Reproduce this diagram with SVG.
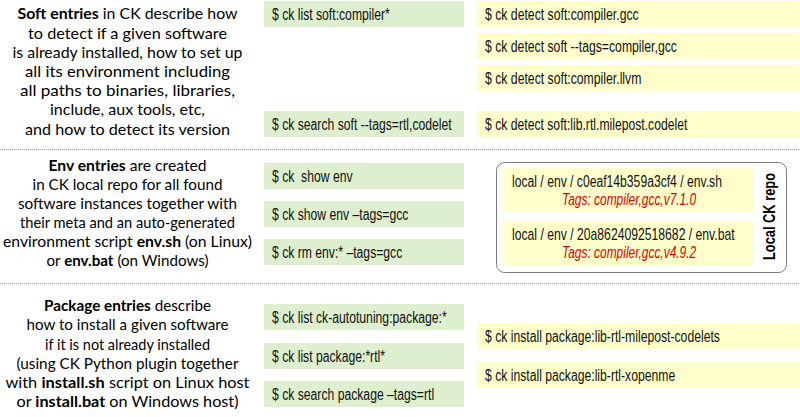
<svg xmlns="http://www.w3.org/2000/svg" width="800" height="417" viewBox="0 0 800 417">
<style>
.bg{fill:#ffffff}
.g{fill:#DEEFCF}
.y{fill:#FFFFCC}
.cmd{font-family:"Liberation Sans Narrow","Liberation Sans",Arial,sans-serif;font-size:16px;fill:#111111}
.desc{font-family:Lato,"Liberation Sans",sans-serif;font-size:16px;text-anchor:middle;fill:#000000}
.b{font-weight:bold}
.tag{font-style:italic;fill:#D80000}
.sep{stroke:#9a9a9a;stroke-width:1;stroke-dasharray:1 1;fill:none}
.repo{fill:#ffffff;stroke:#7a7a7a;stroke-width:1}
.lbl{font-family:"Liberation Sans Narrow","Liberation Sans",Arial,sans-serif;font-size:17px;font-weight:bold;text-anchor:middle;fill:#000000}
</style>
<rect class="bg" x="0" y="0" width="800" height="417"/>
<g id="separators">
<line class="sep" x1="0" y1="149.5" x2="800" y2="149.5"/>
<line class="sep" x1="0" y1="283.5" x2="800" y2="283.5"/>
</g>
<g id="connectors"/>

<g id="soft-desc">
<text class="desc" x="127.5" y="19.3" textLength="220" lengthAdjust="spacingAndGlyphs"><tspan class="b">Soft entries</tspan> in CK describe how</text>
<text class="desc" x="127.5" y="38.5" textLength="199" lengthAdjust="spacingAndGlyphs">to detect if a given software</text>
<text class="desc" x="127.5" y="57.7" textLength="230" lengthAdjust="spacingAndGlyphs">is already installed, how to set up</text>
<text class="desc" x="127.5" y="76.9" textLength="205" lengthAdjust="spacingAndGlyphs">all its environment including</text>
<text class="desc" x="127.5" y="96.1" textLength="215" lengthAdjust="spacingAndGlyphs">all paths to binaries, libraries,</text>
<text class="desc" x="127.5" y="115.3" textLength="155" lengthAdjust="spacingAndGlyphs">include, aux tools, etc,</text>
<text class="desc" x="127.5" y="134.5" textLength="205" lengthAdjust="spacingAndGlyphs">and how to detect its version</text>
</g>

<g id="cmd-list-soft">
<rect class="g" x="264" y="1" width="200" height="26"/>
<text class="cmd" x="272" y="19.5" textLength="117.8" lengthAdjust="spacingAndGlyphs">$ ck list soft:compiler*</text>
</g>
<g id="cmd-search-soft">
<rect class="g" x="264" y="111" width="200" height="26"/>
<text class="cmd" x="272" y="129.5" textLength="179.7" lengthAdjust="spacingAndGlyphs">$ ck search soft --tags=rtl,codelet</text>
</g>
<g id="cmd-detect-gcc">
<rect class="y" x="477" y="1" width="322" height="26"/>
<text class="cmd" x="485" y="19.5" textLength="153.7" lengthAdjust="spacingAndGlyphs">$ ck detect soft:compiler.gcc</text>
</g>
<g id="cmd-detect-tags">
<rect class="y" x="477" y="33" width="322" height="26"/>
<text class="cmd" x="485" y="51.5" textLength="191.9" lengthAdjust="spacingAndGlyphs">$ ck detect soft --tags=compiler,gcc</text>
</g>
<g id="cmd-detect-llvm">
<rect class="y" x="477" y="65" width="322" height="26"/>
<text class="cmd" x="485" y="83.5" textLength="156.4" lengthAdjust="spacingAndGlyphs">$ ck detect soft:compiler.llvm</text>
</g>
<g id="cmd-detect-codelet">
<rect class="y" x="477" y="111" width="322" height="26"/>
<text class="cmd" x="485" y="129.5" textLength="202.4" lengthAdjust="spacingAndGlyphs">$ ck detect soft:lib.rtl.milepost.codelet</text>
</g>

<g id="env-desc">
<text class="desc" x="127.5" y="170.5" textLength="158" lengthAdjust="spacingAndGlyphs"><tspan class="b">Env entries</tspan> are created</text>
<text class="desc" x="127.5" y="189.5" textLength="190" lengthAdjust="spacingAndGlyphs">in CK local repo for all found</text>
<text class="desc" x="127.5" y="208.5" textLength="219" lengthAdjust="spacingAndGlyphs">software instances together with</text>
<text class="desc" x="127.5" y="227.5" textLength="215" lengthAdjust="spacingAndGlyphs">their meta and an auto-generated</text>
<text class="desc" x="127.5" y="246.5" textLength="249" lengthAdjust="spacingAndGlyphs">environment script <tspan class="b">env.sh</tspan> (on Linux)</text>
<text class="desc" x="127.5" y="265.5" textLength="162" lengthAdjust="spacingAndGlyphs">or <tspan class="b">env.bat</tspan> (on Windows)</text>
</g>

<g id="cmd-show-env">
<rect class="g" x="264" y="163" width="200" height="26"/>
<text class="cmd" x="272" y="181.5" xml:space="preserve" textLength="80.6" lengthAdjust="spacingAndGlyphs">$ ck  show env</text>
</g>
<g id="cmd-show-env-tags">
<rect class="g" x="264" y="201" width="200" height="26"/>
<text class="cmd" x="272" y="219.5" textLength="136.4" lengthAdjust="spacingAndGlyphs">$ ck show env –tags=gcc</text>
</g>
<g id="cmd-rm-env">
<rect class="g" x="264" y="239" width="200" height="26"/>
<text class="cmd" x="272" y="257.5" textLength="130.3" lengthAdjust="spacingAndGlyphs">$ ck rm env:* –tags=gcc</text>
</g>

<g id="local-repo">
<rect class="repo" x="496.5" y="162.5" width="290" height="110" rx="8" ry="8"/>
<text class="lbl" transform="translate(775,216.5) rotate(-90)" x="0" y="0" textLength="87" lengthAdjust="spacingAndGlyphs">Local CK repo</text>
</g>
<g id="env-entry-gcc7">
<rect class="y" x="503" y="168" width="251" height="44"/>
<text class="cmd" transform="translate(512,187) scale(0.76,1)" x="0" y="0">local / env / c0eaf14b359a3cf4 / env.sh</text>
<text class="cmd tag" transform="translate(562,205) scale(0.746,1)" x="0" y="0">Tags: compiler,gcc,v7.1.0</text>
</g>
<g id="env-entry-gcc4">
<rect class="y" x="503" y="221" width="251" height="44"/>
<text class="cmd" transform="translate(512,240) scale(0.7615,1)" x="0" y="0">local / env / 20a8624092518682 / env.bat</text>
<text class="cmd tag" transform="translate(562,258) scale(0.746,1)" x="0" y="0">Tags: compiler,gcc,v4.9.2</text>
</g>

<g id="package-desc">
<text class="desc" x="127.5" y="311.3" textLength="167" lengthAdjust="spacingAndGlyphs"><tspan class="b">Package entries</tspan> describe</text>
<text class="desc" x="127.5" y="330.4" textLength="202" lengthAdjust="spacingAndGlyphs">how to install a given software</text>
<text class="desc" x="127.5" y="349.5" textLength="165" lengthAdjust="spacingAndGlyphs">if it is not already installed</text>
<text class="desc" x="127.5" y="368.6" textLength="222" lengthAdjust="spacingAndGlyphs">(using CK Python plugin together</text>
<text class="desc" x="127.5" y="387.7" textLength="244" lengthAdjust="spacingAndGlyphs">with <tspan class="b">install.sh</tspan> script on Linux host</text>
<text class="desc" x="127.5" y="406.8" textLength="222" lengthAdjust="spacingAndGlyphs">or <tspan class="b">install.bat</tspan> on Windows host)</text>
</g>

<g id="cmd-list-autotuning">
<rect class="g" x="264" y="304" width="200" height="26"/>
<text class="cmd" x="272" y="322.5" textLength="174.7" lengthAdjust="spacingAndGlyphs">$ ck list ck-autotuning:package:*</text>
</g>
<g id="cmd-list-package">
<rect class="g" x="264" y="343" width="200" height="26"/>
<text class="cmd" x="272" y="361.5" textLength="113" lengthAdjust="spacingAndGlyphs">$ ck list package:*rtl*</text>
</g>
<g id="cmd-search-package">
<rect class="g" x="264" y="381" width="200" height="26"/>
<text class="cmd" x="272" y="399.5" textLength="162.1" lengthAdjust="spacingAndGlyphs">$ ck search package –tags=rtl</text>
</g>
<g id="cmd-install-codelets">
<rect class="y" x="477" y="323" width="322" height="26"/>
<text class="cmd" x="485" y="341.5" textLength="234.9" lengthAdjust="spacingAndGlyphs">$ ck install package:lib-rtl-milepost-codelets</text>
</g>
<g id="cmd-install-xopenme">
<rect class="y" x="477" y="362" width="322" height="26"/>
<text class="cmd" x="485" y="380.5" textLength="190.2" lengthAdjust="spacingAndGlyphs">$ ck install package:lib-rtl-xopenme</text>
</g>
</svg>
